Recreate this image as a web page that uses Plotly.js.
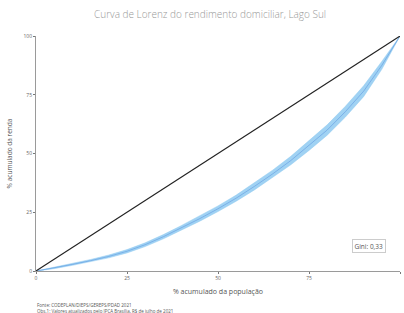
<!DOCTYPE html>
<html>
<head>
<meta charset="utf-8">
<script src="https://cdn.plot.ly/plotly-3.0.1.min.js"></script>
<style>
html,body{margin:0;padding:0;background:#fff;}
#chart{width:404px;height:313px;}
</style>
</head>
<body>
<div id="chart"></div>
<script>
// Data
const popPct   = [0,5,10,15,20,25,30,35,40,45,50,55,60,65,70,75,80,85,90,95,100];
const rendaPct = [0,1.3,2.8,4.4,6.2,8.4,11.2,14.6,18.4,22.3,26.5,31,36,41.3,47,53.3,60,67.8,76.5,87.5,100];
const rendaLow = [0,1.0,2.4,3.9,5.6,7.7,10.4,13.7,17.4,21.2,25.3,29.7,34.5,39.7,45.2,51.3,57.8,65.5,74.2,85.8,100];
const rendaUp  = [0,1.6,3.2,4.9,6.8,9.1,12.0,15.5,19.4,23.4,27.7,32.3,37.5,42.9,48.8,55.3,62.2,70.1,78.8,89.2,100];
const equalX = [0,100];
const equalY = [0,100];
const tickVals = [0,25,50,75,100];
const tickText = ['0','25','50','75','100'];
const giniText = 'Gini: 0,33';
const titleText = 'Curva de Lorenz do rendimento domiciliar, Lago Sul';
const xTitle = '% acumulado da população';
const yTitle = '% acumulado da renda';
const note1 = 'Fonte: CODEPLAN/DIEPS/GEREPS/PDAD 2021';
const note2 = 'Obs.1: Valores atualizados pelo IPCA Brasília, R$ de julho de 2021';

const traces = [
  {x: popPct, y: rendaLow, mode:'lines', line:{color:'rgba(140,200,240,0.9)', width:0.5}, hoverinfo:'skip', showlegend:false},
  {x: popPct, y: rendaUp, mode:'lines', fill:'tonexty', fillcolor:'rgba(150,205,242,0.9)', line:{color:'rgba(140,200,240,0.9)', width:0.5}, hoverinfo:'skip', showlegend:false},
  {x: popPct, y: rendaPct, mode:'lines', line:{color:'rgba(80,140,220,0.6)', width:0.8}, showlegend:false},
  {x: equalX, y: equalY, mode:'lines', line:{color:'#222', width:1.1}, showlegend:false}
];

const axisCommon = {
  range:[0,100], tickvals: tickVals, ticktext: tickText,
  showgrid:false, zeroline:false, showline:true, linecolor:'#9a9a9a', linewidth:1,
  ticks:'outside', ticklen:2, tickcolor:'#777',
  tickfont:{family:'Open Sans', size:5, color:'#666'}
};

const layout = {
  width:404, height:313,
  margin:{l:36, r:4, t:36, b:42},
  paper_bgcolor:'#fff', plot_bgcolor:'#fff',
  font:{family:'Open Sans', color:'#666'},
  title:{text:titleText, x:0.52, xanchor:'center', y:0.955, yanchor:'middle',
         font:{family:'Open Sans', size:10, color:'#999', weight:300}},
  xaxis: Object.assign({}, axisCommon, {
    title:{text:xTitle, font:{family:'Open Sans', size:7, color:'#555'}, standoff:9}
  }),
  yaxis: Object.assign({}, axisCommon, {
    title:{text:yTitle, font:{family:'Open Sans', size:6.5, color:'#555'}, standoff:10}
  }),
  annotations:[
    {text:giniText, xref:'x', yref:'y', x:91.5, y:10.5, showarrow:false,
     font:{family:'Open Sans', size:6.5, color:'#555'}, bordercolor:'#ccc', borderwidth:1, borderpad:1.5, bgcolor:'#fff'},
    {text:note1, xref:'paper', yref:'paper', x:-0.003, y:-0.125, xanchor:'left', yanchor:'top', showarrow:false,
     font:{family:'Open Sans', size:4.5, color:'#555'}},
    {text:note2, xref:'paper', yref:'paper', x:-0.003, y:-0.148, xanchor:'left', yanchor:'top', showarrow:false,
     font:{family:'Open Sans', size:4.5, color:'#555'}}
  ]
};

Plotly.newPlot('chart', traces, layout, {displayModeBar:false, staticPlot:true});
</script>
</body>
</html>
